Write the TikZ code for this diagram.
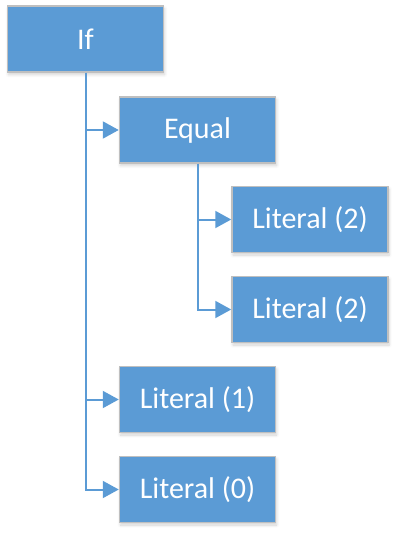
\documentclass[tikz,border=0pt]{standalone}
\usepackage{fontspec}
\setmainfont{Carlito}
\usetikzlibrary{arrows.meta,shadows.blur}
\definecolor{boxblue}{HTML}{5B9BD5}
\definecolor{boxedge}{HTML}{BFBFBF}
\begin{document}
\begin{tikzpicture}[x=1pt,y=-1pt,
  box/.style={fill=boxblue,draw=boxedge,line width=1.5pt,minimum width=156pt,minimum height=66pt,inner sep=0pt,
    font=\fontsize{30}{35}\selectfont,text=white,
    blur shadow={shadow xshift=1pt,shadow yshift=-2.5pt,shadow blur steps=6,shadow opacity=18,shadow blur radius=3pt}},
  conn/.style={draw=boxblue,line width=2pt,-{Triangle[length=16pt,width=17pt]}}]
\useasboundingbox (0,0) rectangle (396,533);
\node[box] (if) at (85.5,39) {If};
\node[box] (eq) at (197.5,130) {Equal};
\node[box] (l2a) at (310,219.5) {Literal (2)};
\node[box] (l2b) at (310,309.5) {Literal (2)};
\node[box] (l1) at (197.5,399.5) {Literal (1)};
\node[box] (l0) at (197.5,489.5) {Literal (0)};
\draw[conn] (if.south) |- (eq.west);
\draw[conn] (if.south) |- (l1.west);
\draw[conn] (if.south) |- (l0.west);
\draw[conn] (eq.south) |- (l2a.west);
\draw[conn] (eq.south) |- (l2b.west);
\end{tikzpicture}
\end{document}
